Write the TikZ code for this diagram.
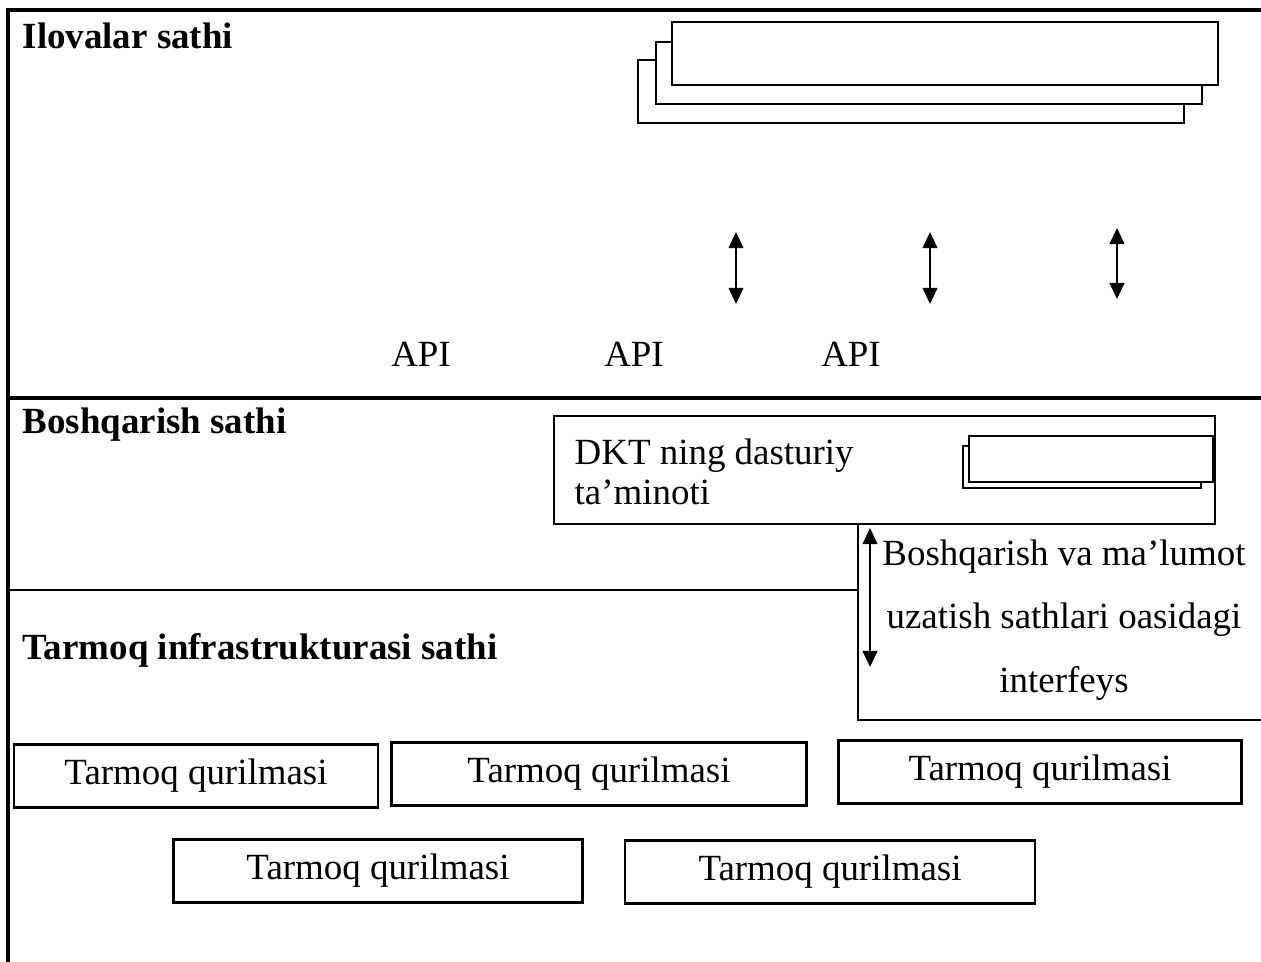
\documentclass[tikz,border=0pt]{standalone}
\usepackage{fontspec}
\setmainfont{Liberation Serif}
\usetikzlibrary{arrows.meta,positioning}

\tikzset{
    txt/.style={font=\fontsize{10.5}{11.1}\selectfont},
    layername/.style={font=\fontsize{10.5}{11.1}\selectfont\bfseries,anchor=base west,inner sep=0pt},
    framestroke/.style={line width=0.9pt},
    boxstroke/.style={line width=0.65pt},
    device/.style={txt,draw,boxstroke,inner sep=0pt,minimum height=0.63cm},
    dblarrow/.style={line width=0.6pt,{Triangle[width=4.2pt,length=4.6pt]}-{Triangle[width=4.2pt,length=4.6pt]}}
}

\begin{document}
\begin{tikzpicture}[x=0.01cm,y=-0.01cm]
\useasboundingbox (0,0) rectangle (1261,962);

%%% COORDINATES %%%
\coordinate (A1t) at (736,232); % api arrow 1
\coordinate (A1b) at (736,304);
\coordinate (A2t) at (930,232); % api arrow 2
\coordinate (A2b) at (930,304);
\coordinate (A3t) at (1117,228); % api arrow 3
\coordinate (A3b) at (1117,299);
\coordinate (It) at (870,528); % interface arrow
\coordinate (Ib) at (870,667);

%%% FRAME AND LAYERS %%%
\draw[framestroke] (8,962) -- (8,10) -- (1261,10);
\draw[framestroke] (8,398) -- (1261,398);
\draw[boxstroke] (8,590) -- (858,590);
\node[layername] (apps) at (22,49) {Ilovalar sathi};
\node[layername] (ctrl) at (22,434) {Boshqarish sathi};
\node[layername] (infra) at (22,660) {Tarmoq infrastrukturasi sathi};

%%% APPLICATIONS %%%
% stacked boxes, back to front
\draw[boxstroke,fill=white] (638,60) rectangle (1184,123);
\draw[boxstroke,fill=white] (656,42) rectangle (1202,104);
\draw[boxstroke,fill=white] (672,22) rectangle (1218,85);
\draw[dblarrow] (A1t) -- (A1b);
\draw[dblarrow] (A2t) -- (A2b);
\draw[dblarrow] (A3t) -- (A3b);
\node[txt,anchor=base] (api1) at (421,367) {API};
\node[txt,anchor=base] (api2) at (634,367) {API};
\node[txt,anchor=base] (api3) at (851,367) {API};

%%% CONTROLLER %%%
\draw[boxstroke] (554,416) rectangle (1215,524);
\node[font=\fontsize{10.5}{11.4}\selectfont,anchor=west,align=left,inner sep=0pt] (dkt) at (574,472) {DKT ning dasturiy\\ta’minoti};
\draw[boxstroke,fill=white] (963,446) rectangle (1201,488);
\draw[boxstroke,fill=white] (969,436) rectangle (1213,482);

%%% INTERFACE %%%
\draw[boxstroke] (858,523) -- (858,720) -- (1261,720);
\draw[dblarrow] (It) -- (Ib);
\node[font=\fontsize{10.5}{18}\selectfont,align=center,inner sep=0pt] (intf) at (1064,620)
  {Boshqarish va ma’lumot\\uzatish sathlari oasidagi\\interfeys};

%%% DEVICES %%%
\node[device,minimum width=3.64cm] (dev1) at (196,776) {Tarmoq qurilmasi};
\node[device,minimum width=4.15cm] (dev2) at (599,774) {Tarmoq qurilmasi};
\node[device,minimum width=4.03cm] (dev3) at (1040,772) {Tarmoq qurilmasi};
\node[device,minimum width=4.09cm] (dev4) at (378,871) {Tarmoq qurilmasi};
\node[device,minimum width=4.10cm] (dev5) at (830,872) {Tarmoq qurilmasi};
\end{tikzpicture}
\end{document}
